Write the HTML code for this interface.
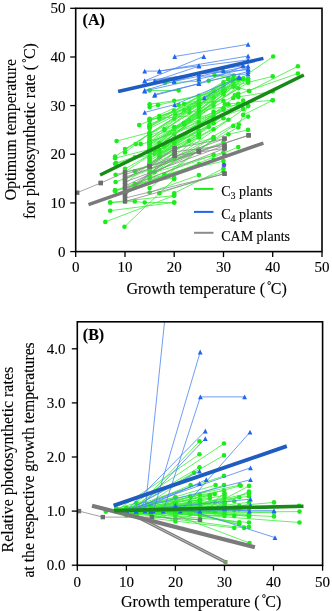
<!DOCTYPE html>
<html><head><meta charset="utf-8"><style>
html,body{margin:0;padding:0;background:#fff;}
svg{display:block;font-family:"Liberation Serif",serif;will-change:transform;}
</style></head><body>
<svg width="332" height="611" viewBox="0 0 332 611" font-family="Liberation Serif"><style>text{stroke:#000;stroke-width:0.12px;}</style>
<rect width="332" height="611" fill="#fff"/>
<defs><clipPath id="ca"><rect x="75.7" y="8.3" width="246.3" height="243.3"/></clipPath>
<clipPath id="cb"><rect x="77.3" y="321.8" width="245.3" height="243.5"/></clipPath></defs>
<g clip-path="url(#ca)">
<polyline points="225.0,89.6 273.2,56.5" fill="none" stroke="#3aee3a" stroke-width="0.8"/>
<circle cx="225.0" cy="89.6" r="2.3" fill="#1ceb1c"/>
<circle cx="273.2" cy="56.5" r="2.3" fill="#1ceb1c"/>
<polyline points="249.1,91.0 297.9,66.2" fill="none" stroke="#3aee3a" stroke-width="0.8"/>
<circle cx="249.1" cy="91.0" r="2.3" fill="#1ceb1c"/>
<circle cx="297.9" cy="66.2" r="2.3" fill="#1ceb1c"/>
<polyline points="234.8,95.4 297.9,73.5" fill="none" stroke="#3aee3a" stroke-width="0.8"/>
<circle cx="234.8" cy="95.4" r="2.3" fill="#1ceb1c"/>
<circle cx="297.9" cy="73.5" r="2.3" fill="#1ceb1c"/>
<polyline points="234.3,85.7 272.7,76.4" fill="none" stroke="#3aee3a" stroke-width="0.8"/>
<circle cx="234.3" cy="85.7" r="2.3" fill="#1ceb1c"/>
<circle cx="272.7" cy="76.4" r="2.3" fill="#1ceb1c"/>
<polyline points="225.0,104.2 272.7,100.3" fill="none" stroke="#3aee3a" stroke-width="0.8"/>
<circle cx="225.0" cy="104.2" r="2.3" fill="#1ceb1c"/>
<circle cx="272.7" cy="100.3" r="2.3" fill="#1ceb1c"/>
<polyline points="238.3,96.9 272.7,91.5" fill="none" stroke="#3aee3a" stroke-width="0.8"/>
<circle cx="238.3" cy="96.9" r="2.3" fill="#1ceb1c"/>
<circle cx="272.7" cy="91.5" r="2.3" fill="#1ceb1c"/>
<polyline points="214.6,75.0 248.1,81.3" fill="none" stroke="#3aee3a" stroke-width="0.8"/>
<circle cx="214.6" cy="75.0" r="2.3" fill="#1ceb1c"/>
<circle cx="248.1" cy="81.3" r="2.3" fill="#1ceb1c"/>
<polyline points="105.3,221.9 174.2,195.6" fill="none" stroke="#3aee3a" stroke-width="0.8"/>
<circle cx="105.3" cy="221.9" r="2.3" fill="#1ceb1c"/>
<circle cx="174.2" cy="195.6" r="2.3" fill="#1ceb1c"/>
<polyline points="124.5,226.8 174.2,179.1" fill="none" stroke="#3aee3a" stroke-width="0.8"/>
<circle cx="124.5" cy="226.8" r="2.3" fill="#1ceb1c"/>
<circle cx="174.2" cy="179.1" r="2.3" fill="#1ceb1c"/>
<polyline points="110.2,210.7 174.2,202.5" fill="none" stroke="#3aee3a" stroke-width="0.8"/>
<circle cx="110.2" cy="210.7" r="2.3" fill="#1ceb1c"/>
<circle cx="174.2" cy="202.5" r="2.3" fill="#1ceb1c"/>
<polyline points="110.2,202.5 174.2,195.6" fill="none" stroke="#3aee3a" stroke-width="0.8"/>
<circle cx="110.2" cy="202.5" r="2.3" fill="#1ceb1c"/>
<circle cx="174.2" cy="195.6" r="2.3" fill="#1ceb1c"/>
<polyline points="110.2,202.5 134.8,201.5 144.7,202.5 174.2,202.5" fill="none" stroke="#3aee3a" stroke-width="0.8"/>
<circle cx="110.2" cy="202.5" r="2.3" fill="#1ceb1c"/>
<circle cx="134.8" cy="201.5" r="2.3" fill="#1ceb1c"/>
<circle cx="144.7" cy="202.5" r="2.3" fill="#1ceb1c"/>
<circle cx="174.2" cy="202.5" r="2.3" fill="#1ceb1c"/>
<polyline points="115.6,174.7 174.2,159.1" fill="none" stroke="#3aee3a" stroke-width="0.8"/>
<circle cx="115.6" cy="174.7" r="2.3" fill="#1ceb1c"/>
<circle cx="174.2" cy="159.1" r="2.3" fill="#1ceb1c"/>
<polyline points="115.6,182.0 198.9,149.4" fill="none" stroke="#3aee3a" stroke-width="0.8"/>
<circle cx="115.6" cy="182.0" r="2.3" fill="#1ceb1c"/>
<circle cx="198.9" cy="149.4" r="2.3" fill="#1ceb1c"/>
<polyline points="115.1,190.3 134.8,185.9 198.9,164.0" fill="none" stroke="#3aee3a" stroke-width="0.8"/>
<circle cx="115.1" cy="190.3" r="2.3" fill="#1ceb1c"/>
<circle cx="134.8" cy="185.9" r="2.3" fill="#1ceb1c"/>
<circle cx="198.9" cy="164.0" r="2.3" fill="#1ceb1c"/>
<polyline points="116.6,141.1 149.6,132.4" fill="none" stroke="#3aee3a" stroke-width="0.8"/>
<circle cx="116.6" cy="141.1" r="2.3" fill="#1ceb1c"/>
<circle cx="149.6" cy="132.4" r="2.3" fill="#1ceb1c"/>
<polyline points="139.2,125.1 174.2,110.5" fill="none" stroke="#3aee3a" stroke-width="0.8"/>
<circle cx="139.2" cy="125.1" r="2.3" fill="#1ceb1c"/>
<circle cx="174.2" cy="110.5" r="2.3" fill="#1ceb1c"/>
<polyline points="115.1,158.2 149.6,149.4" fill="none" stroke="#3aee3a" stroke-width="0.8"/>
<circle cx="115.1" cy="158.2" r="2.3" fill="#1ceb1c"/>
<circle cx="149.6" cy="149.4" r="2.3" fill="#1ceb1c"/>
<polyline points="116.1,163.0 149.6,151.8" fill="none" stroke="#3aee3a" stroke-width="0.8"/>
<circle cx="116.1" cy="163.0" r="2.3" fill="#1ceb1c"/>
<circle cx="149.6" cy="151.8" r="2.3" fill="#1ceb1c"/>
<polyline points="134.8,171.3 174.2,154.3" fill="none" stroke="#3aee3a" stroke-width="0.8"/>
<circle cx="134.8" cy="171.3" r="2.3" fill="#1ceb1c"/>
<circle cx="174.2" cy="154.3" r="2.3" fill="#1ceb1c"/>
<polyline points="134.8,157.2 174.2,144.5" fill="none" stroke="#3aee3a" stroke-width="0.8"/>
<circle cx="134.8" cy="157.2" r="2.3" fill="#1ceb1c"/>
<circle cx="174.2" cy="144.5" r="2.3" fill="#1ceb1c"/>
<polyline points="135.8,144.1 140.7,144.1 149.6,142.1" fill="none" stroke="#3aee3a" stroke-width="0.8"/>
<circle cx="135.8" cy="144.1" r="2.3" fill="#1ceb1c"/>
<circle cx="140.7" cy="144.1" r="2.3" fill="#1ceb1c"/>
<circle cx="149.6" cy="142.1" r="2.3" fill="#1ceb1c"/>
<polyline points="149.6,90.5 178.7,90.5" fill="none" stroke="#3aee3a" stroke-width="0.8"/>
<circle cx="149.6" cy="90.5" r="2.3" fill="#1ceb1c"/>
<circle cx="178.7" cy="90.5" r="2.3" fill="#1ceb1c"/>
<polyline points="164.9,82.7 198.9,81.3" fill="none" stroke="#3aee3a" stroke-width="0.8"/>
<circle cx="164.9" cy="82.7" r="2.3" fill="#1ceb1c"/>
<circle cx="198.9" cy="81.3" r="2.3" fill="#1ceb1c"/>
<polyline points="149.6,104.2 174.2,100.8 223.5,90.0" fill="none" stroke="#3aee3a" stroke-width="0.8"/>
<circle cx="149.6" cy="104.2" r="2.3" fill="#1ceb1c"/>
<circle cx="174.2" cy="100.8" r="2.3" fill="#1ceb1c"/>
<circle cx="223.5" cy="90.0" r="2.3" fill="#1ceb1c"/>
<polyline points="149.6,107.1 158.0,105.1 198.9,95.9" fill="none" stroke="#3aee3a" stroke-width="0.8"/>
<circle cx="149.6" cy="107.1" r="2.3" fill="#1ceb1c"/>
<circle cx="158.0" cy="105.1" r="2.3" fill="#1ceb1c"/>
<circle cx="198.9" cy="95.9" r="2.3" fill="#1ceb1c"/>
<polyline points="178.7,105.1 223.5,100.8" fill="none" stroke="#3aee3a" stroke-width="0.8"/>
<circle cx="178.7" cy="105.1" r="2.3" fill="#1ceb1c"/>
<circle cx="223.5" cy="100.8" r="2.3" fill="#1ceb1c"/>
<polyline points="175.2,114.4 189.5,112.4 238.3,104.6" fill="none" stroke="#3aee3a" stroke-width="0.8"/>
<circle cx="175.2" cy="114.4" r="2.3" fill="#1ceb1c"/>
<circle cx="189.5" cy="112.4" r="2.3" fill="#1ceb1c"/>
<circle cx="238.3" cy="104.6" r="2.3" fill="#1ceb1c"/>
<polyline points="149.6,118.8 198.9,115.4" fill="none" stroke="#3aee3a" stroke-width="0.8"/>
<circle cx="149.6" cy="118.8" r="2.3" fill="#1ceb1c"/>
<circle cx="198.9" cy="115.4" r="2.3" fill="#1ceb1c"/>
<polyline points="208.7,80.8 233.8,75.5" fill="none" stroke="#3aee3a" stroke-width="0.8"/>
<circle cx="208.7" cy="80.8" r="2.3" fill="#1ceb1c"/>
<circle cx="233.8" cy="75.5" r="2.3" fill="#1ceb1c"/>
<polyline points="223.0,71.1 248.1,80.8" fill="none" stroke="#3aee3a" stroke-width="0.8"/>
<circle cx="223.0" cy="71.1" r="2.3" fill="#1ceb1c"/>
<circle cx="248.1" cy="80.8" r="2.3" fill="#1ceb1c"/>
<polyline points="233.8,85.7 249.1,91.0" fill="none" stroke="#3aee3a" stroke-width="0.8"/>
<circle cx="233.8" cy="85.7" r="2.3" fill="#1ceb1c"/>
<circle cx="249.1" cy="91.0" r="2.3" fill="#1ceb1c"/>
<polyline points="223.5,168.4 174.2,193.2" fill="none" stroke="#3aee3a" stroke-width="0.8"/>
<circle cx="223.5" cy="168.4" r="2.3" fill="#1ceb1c"/>
<circle cx="174.2" cy="193.2" r="2.3" fill="#1ceb1c"/>
<polyline points="223.5,161.1 149.6,178.6" fill="none" stroke="#3aee3a" stroke-width="0.8"/>
<circle cx="223.5" cy="161.1" r="2.3" fill="#1ceb1c"/>
<circle cx="149.6" cy="178.6" r="2.3" fill="#1ceb1c"/>
<polyline points="223.5,152.3 149.6,173.7" fill="none" stroke="#3aee3a" stroke-width="0.8"/>
<circle cx="223.5" cy="152.3" r="2.3" fill="#1ceb1c"/>
<circle cx="149.6" cy="173.7" r="2.3" fill="#1ceb1c"/>
<polyline points="238.8,124.6 248.1,105.6" fill="none" stroke="#3aee3a" stroke-width="0.8"/>
<circle cx="238.8" cy="124.6" r="2.3" fill="#1ceb1c"/>
<circle cx="248.1" cy="105.6" r="2.3" fill="#1ceb1c"/>
<polyline points="243.2,114.9 272.7,100.3" fill="none" stroke="#3aee3a" stroke-width="0.8"/>
<circle cx="243.2" cy="114.9" r="2.3" fill="#1ceb1c"/>
<circle cx="272.7" cy="100.3" r="2.3" fill="#1ceb1c"/>
<polyline points="228.4,134.3 248.1,129.9" fill="none" stroke="#3aee3a" stroke-width="0.8"/>
<circle cx="228.4" cy="134.3" r="2.3" fill="#1ceb1c"/>
<circle cx="248.1" cy="129.9" r="2.3" fill="#1ceb1c"/>
<polyline points="154.5,150.3 174.2,134.5 213.6,105.8" fill="none" stroke="#3aee3a" stroke-width="0.8"/>
<circle cx="154.5" cy="150.3" r="2.3" fill="#1ceb1c"/>
<circle cx="174.2" cy="134.5" r="2.3" fill="#1ceb1c"/>
<circle cx="213.6" cy="105.8" r="2.3" fill="#1ceb1c"/>
<polyline points="125.0,168.8 174.2,141.3 213.6,119.2" fill="none" stroke="#3aee3a" stroke-width="0.8"/>
<circle cx="125.0" cy="168.8" r="2.3" fill="#1ceb1c"/>
<circle cx="174.2" cy="141.3" r="2.3" fill="#1ceb1c"/>
<circle cx="213.6" cy="119.2" r="2.3" fill="#1ceb1c"/>
<polyline points="125.0,193.2 238.3,147.1" fill="none" stroke="#3aee3a" stroke-width="0.8"/>
<circle cx="125.0" cy="193.2" r="2.3" fill="#1ceb1c"/>
<circle cx="238.3" cy="147.1" r="2.3" fill="#1ceb1c"/>
<polyline points="125.0,149.0 174.2,118.7 243.2,78.9" fill="none" stroke="#3aee3a" stroke-width="0.8"/>
<circle cx="125.0" cy="149.0" r="2.3" fill="#1ceb1c"/>
<circle cx="174.2" cy="118.7" r="2.3" fill="#1ceb1c"/>
<circle cx="243.2" cy="78.9" r="2.3" fill="#1ceb1c"/>
<polyline points="149.6,127.0 223.5,86.1" fill="none" stroke="#3aee3a" stroke-width="0.8"/>
<circle cx="149.6" cy="127.0" r="2.3" fill="#1ceb1c"/>
<circle cx="223.5" cy="86.1" r="2.3" fill="#1ceb1c"/>
<polyline points="149.6,144.5 238.3,88.3" fill="none" stroke="#3aee3a" stroke-width="0.8"/>
<circle cx="149.6" cy="144.5" r="2.3" fill="#1ceb1c"/>
<circle cx="238.3" cy="88.3" r="2.3" fill="#1ceb1c"/>
<polyline points="159.4,153.0 174.2,140.8 208.7,122.7" fill="none" stroke="#3aee3a" stroke-width="0.8"/>
<circle cx="159.4" cy="153.0" r="2.3" fill="#1ceb1c"/>
<circle cx="174.2" cy="140.8" r="2.3" fill="#1ceb1c"/>
<circle cx="208.7" cy="122.7" r="2.3" fill="#1ceb1c"/>
<polyline points="174.2,129.5 198.9,117.2" fill="none" stroke="#3aee3a" stroke-width="0.8"/>
<circle cx="174.2" cy="129.5" r="2.3" fill="#1ceb1c"/>
<circle cx="198.9" cy="117.2" r="2.3" fill="#1ceb1c"/>
<polyline points="174.2,143.4 223.5,109.4" fill="none" stroke="#3aee3a" stroke-width="0.8"/>
<circle cx="174.2" cy="143.4" r="2.3" fill="#1ceb1c"/>
<circle cx="223.5" cy="109.4" r="2.3" fill="#1ceb1c"/>
<polyline points="149.6,119.3 238.3,78.9" fill="none" stroke="#3aee3a" stroke-width="0.8"/>
<circle cx="149.6" cy="119.3" r="2.3" fill="#1ceb1c"/>
<circle cx="238.3" cy="78.9" r="2.3" fill="#1ceb1c"/>
<polyline points="174.2,139.1 223.5,109.6" fill="none" stroke="#3aee3a" stroke-width="0.8"/>
<circle cx="174.2" cy="139.1" r="2.3" fill="#1ceb1c"/>
<circle cx="223.5" cy="109.6" r="2.3" fill="#1ceb1c"/>
<polyline points="154.5,150.2 213.6,102.5" fill="none" stroke="#3aee3a" stroke-width="0.8"/>
<circle cx="154.5" cy="150.2" r="2.3" fill="#1ceb1c"/>
<circle cx="213.6" cy="102.5" r="2.3" fill="#1ceb1c"/>
<polyline points="125.0,192.9 198.9,137.5" fill="none" stroke="#3aee3a" stroke-width="0.8"/>
<circle cx="125.0" cy="192.9" r="2.3" fill="#1ceb1c"/>
<circle cx="198.9" cy="137.5" r="2.3" fill="#1ceb1c"/>
<polyline points="159.4,153.9 243.2,104.4" fill="none" stroke="#3aee3a" stroke-width="0.8"/>
<circle cx="159.4" cy="153.9" r="2.3" fill="#1ceb1c"/>
<circle cx="243.2" cy="104.4" r="2.3" fill="#1ceb1c"/>
<polyline points="125.0,152.5 149.6,133.3 189.0,108.3" fill="none" stroke="#3aee3a" stroke-width="0.8"/>
<circle cx="125.0" cy="152.5" r="2.3" fill="#1ceb1c"/>
<circle cx="149.6" cy="133.3" r="2.3" fill="#1ceb1c"/>
<circle cx="189.0" cy="108.3" r="2.3" fill="#1ceb1c"/>
<polyline points="149.6,172.3 248.1,116.6" fill="none" stroke="#3aee3a" stroke-width="0.8"/>
<circle cx="149.6" cy="172.3" r="2.3" fill="#1ceb1c"/>
<circle cx="248.1" cy="116.6" r="2.3" fill="#1ceb1c"/>
<polyline points="159.4,155.4 198.9,123.4" fill="none" stroke="#3aee3a" stroke-width="0.8"/>
<circle cx="159.4" cy="155.4" r="2.3" fill="#1ceb1c"/>
<circle cx="198.9" cy="123.4" r="2.3" fill="#1ceb1c"/>
<polyline points="149.6,121.0 233.3,86.7" fill="none" stroke="#3aee3a" stroke-width="0.8"/>
<circle cx="149.6" cy="121.0" r="2.3" fill="#1ceb1c"/>
<circle cx="233.3" cy="86.7" r="2.3" fill="#1ceb1c"/>
<polyline points="164.4,129.0 198.9,108.1 213.6,90.8" fill="none" stroke="#3aee3a" stroke-width="0.8"/>
<circle cx="164.4" cy="129.0" r="2.3" fill="#1ceb1c"/>
<circle cx="198.9" cy="108.1" r="2.3" fill="#1ceb1c"/>
<circle cx="213.6" cy="90.8" r="2.3" fill="#1ceb1c"/>
<polyline points="149.6,142.0 189.0,120.0" fill="none" stroke="#3aee3a" stroke-width="0.8"/>
<circle cx="149.6" cy="142.0" r="2.3" fill="#1ceb1c"/>
<circle cx="189.0" cy="120.0" r="2.3" fill="#1ceb1c"/>
<polyline points="174.2,140.9 198.9,133.9 223.5,118.2" fill="none" stroke="#3aee3a" stroke-width="0.8"/>
<circle cx="174.2" cy="140.9" r="2.3" fill="#1ceb1c"/>
<circle cx="198.9" cy="133.9" r="2.3" fill="#1ceb1c"/>
<circle cx="223.5" cy="118.2" r="2.3" fill="#1ceb1c"/>
<polyline points="149.6,150.4 223.5,94.5" fill="none" stroke="#3aee3a" stroke-width="0.8"/>
<circle cx="149.6" cy="150.4" r="2.3" fill="#1ceb1c"/>
<circle cx="223.5" cy="94.5" r="2.3" fill="#1ceb1c"/>
<polyline points="149.6,151.2 198.9,130.6" fill="none" stroke="#3aee3a" stroke-width="0.8"/>
<circle cx="149.6" cy="151.2" r="2.3" fill="#1ceb1c"/>
<circle cx="198.9" cy="130.6" r="2.3" fill="#1ceb1c"/>
<polyline points="154.5,153.6 213.6,115.1" fill="none" stroke="#3aee3a" stroke-width="0.8"/>
<circle cx="154.5" cy="153.6" r="2.3" fill="#1ceb1c"/>
<circle cx="213.6" cy="115.1" r="2.3" fill="#1ceb1c"/>
<polyline points="125.0,183.6 233.3,98.0" fill="none" stroke="#3aee3a" stroke-width="0.8"/>
<circle cx="125.0" cy="183.6" r="2.3" fill="#1ceb1c"/>
<circle cx="233.3" cy="98.0" r="2.3" fill="#1ceb1c"/>
<polyline points="164.4,146.5 198.9,122.4 228.4,104.3" fill="none" stroke="#3aee3a" stroke-width="0.8"/>
<circle cx="164.4" cy="146.5" r="2.3" fill="#1ceb1c"/>
<circle cx="198.9" cy="122.4" r="2.3" fill="#1ceb1c"/>
<circle cx="228.4" cy="104.3" r="2.3" fill="#1ceb1c"/>
<polyline points="125.0,171.9 174.2,139.4 223.5,108.6" fill="none" stroke="#3aee3a" stroke-width="0.8"/>
<circle cx="125.0" cy="171.9" r="2.3" fill="#1ceb1c"/>
<circle cx="174.2" cy="139.4" r="2.3" fill="#1ceb1c"/>
<circle cx="223.5" cy="108.6" r="2.3" fill="#1ceb1c"/>
<polyline points="149.6,135.5 238.3,103.8" fill="none" stroke="#3aee3a" stroke-width="0.8"/>
<circle cx="149.6" cy="135.5" r="2.3" fill="#1ceb1c"/>
<circle cx="238.3" cy="103.8" r="2.3" fill="#1ceb1c"/>
<polyline points="164.4,130.0 213.6,97.5" fill="none" stroke="#3aee3a" stroke-width="0.8"/>
<circle cx="164.4" cy="130.0" r="2.3" fill="#1ceb1c"/>
<circle cx="213.6" cy="97.5" r="2.3" fill="#1ceb1c"/>
<polyline points="159.4,118.5 233.3,78.9" fill="none" stroke="#3aee3a" stroke-width="0.8"/>
<circle cx="159.4" cy="118.5" r="2.3" fill="#1ceb1c"/>
<circle cx="233.3" cy="78.9" r="2.3" fill="#1ceb1c"/>
<polyline points="184.1,104.1 198.9,100.4 223.5,88.8" fill="none" stroke="#3aee3a" stroke-width="0.8"/>
<circle cx="184.1" cy="104.1" r="2.3" fill="#1ceb1c"/>
<circle cx="198.9" cy="100.4" r="2.3" fill="#1ceb1c"/>
<circle cx="223.5" cy="88.8" r="2.3" fill="#1ceb1c"/>
<polyline points="149.6,137.5 238.3,105.8" fill="none" stroke="#3aee3a" stroke-width="0.8"/>
<circle cx="149.6" cy="137.5" r="2.3" fill="#1ceb1c"/>
<circle cx="238.3" cy="105.8" r="2.3" fill="#1ceb1c"/>
<polyline points="159.4,157.2 213.6,118.1" fill="none" stroke="#3aee3a" stroke-width="0.8"/>
<circle cx="159.4" cy="157.2" r="2.3" fill="#1ceb1c"/>
<circle cx="213.6" cy="118.1" r="2.3" fill="#1ceb1c"/>
<polyline points="125.0,193.2 248.1,106.1" fill="none" stroke="#3aee3a" stroke-width="0.8"/>
<circle cx="125.0" cy="193.2" r="2.3" fill="#1ceb1c"/>
<circle cx="248.1" cy="106.1" r="2.3" fill="#1ceb1c"/>
<polyline points="149.6,146.0 223.5,92.0" fill="none" stroke="#3aee3a" stroke-width="0.8"/>
<circle cx="149.6" cy="146.0" r="2.3" fill="#1ceb1c"/>
<circle cx="223.5" cy="92.0" r="2.3" fill="#1ceb1c"/>
<polyline points="149.6,170.3 243.2,100.5" fill="none" stroke="#3aee3a" stroke-width="0.8"/>
<circle cx="149.6" cy="170.3" r="2.3" fill="#1ceb1c"/>
<circle cx="243.2" cy="100.5" r="2.3" fill="#1ceb1c"/>
<polyline points="149.6,147.7 198.9,111.2" fill="none" stroke="#3aee3a" stroke-width="0.8"/>
<circle cx="149.6" cy="147.7" r="2.3" fill="#1ceb1c"/>
<circle cx="198.9" cy="111.2" r="2.3" fill="#1ceb1c"/>
<polyline points="184.1,110.1 223.5,82.3" fill="none" stroke="#3aee3a" stroke-width="0.8"/>
<circle cx="184.1" cy="110.1" r="2.3" fill="#1ceb1c"/>
<circle cx="223.5" cy="82.3" r="2.3" fill="#1ceb1c"/>
<polyline points="149.6,150.5 233.3,82.0" fill="none" stroke="#3aee3a" stroke-width="0.8"/>
<circle cx="149.6" cy="150.5" r="2.3" fill="#1ceb1c"/>
<circle cx="233.3" cy="82.0" r="2.3" fill="#1ceb1c"/>
<polyline points="159.4,116.0 198.9,105.2 223.5,91.3" fill="none" stroke="#3aee3a" stroke-width="0.8"/>
<circle cx="159.4" cy="116.0" r="2.3" fill="#1ceb1c"/>
<circle cx="198.9" cy="105.2" r="2.3" fill="#1ceb1c"/>
<circle cx="223.5" cy="91.3" r="2.3" fill="#1ceb1c"/>
<polyline points="184.1,124.8 243.2,78.9" fill="none" stroke="#3aee3a" stroke-width="0.8"/>
<circle cx="184.1" cy="124.8" r="2.3" fill="#1ceb1c"/>
<circle cx="243.2" cy="78.9" r="2.3" fill="#1ceb1c"/>
<polyline points="115.1,156.5 233.3,78.9" fill="none" stroke="#3aee3a" stroke-width="0.8"/>
<circle cx="115.1" cy="156.5" r="2.3" fill="#1ceb1c"/>
<circle cx="233.3" cy="78.9" r="2.3" fill="#1ceb1c"/>
<polyline points="149.6,157.6 213.6,123.2" fill="none" stroke="#3aee3a" stroke-width="0.8"/>
<circle cx="149.6" cy="157.6" r="2.3" fill="#1ceb1c"/>
<circle cx="213.6" cy="123.2" r="2.3" fill="#1ceb1c"/>
<polyline points="149.6,134.6 198.9,105.4 233.3,79.4" fill="none" stroke="#3aee3a" stroke-width="0.8"/>
<circle cx="149.6" cy="134.6" r="2.3" fill="#1ceb1c"/>
<circle cx="198.9" cy="105.4" r="2.3" fill="#1ceb1c"/>
<circle cx="233.3" cy="79.4" r="2.3" fill="#1ceb1c"/>
<polyline points="164.4,174.4 233.3,125.9" fill="none" stroke="#3aee3a" stroke-width="0.8"/>
<circle cx="164.4" cy="174.4" r="2.3" fill="#1ceb1c"/>
<circle cx="233.3" cy="125.9" r="2.3" fill="#1ceb1c"/>
<polyline points="149.6,124.3 198.9,103.6" fill="none" stroke="#3aee3a" stroke-width="0.8"/>
<circle cx="149.6" cy="124.3" r="2.3" fill="#1ceb1c"/>
<circle cx="198.9" cy="103.6" r="2.3" fill="#1ceb1c"/>
<polyline points="149.6,126.2 243.2,78.9" fill="none" stroke="#3aee3a" stroke-width="0.8"/>
<circle cx="149.6" cy="126.2" r="2.3" fill="#1ceb1c"/>
<circle cx="243.2" cy="78.9" r="2.3" fill="#1ceb1c"/>
<polyline points="149.6,192.5 198.9,175.1" fill="none" stroke="#3aee3a" stroke-width="0.8"/>
<circle cx="149.6" cy="192.5" r="2.3" fill="#1ceb1c"/>
<circle cx="198.9" cy="175.1" r="2.3" fill="#1ceb1c"/>
<polyline points="149.6,149.0 238.3,78.9" fill="none" stroke="#3aee3a" stroke-width="0.8"/>
<circle cx="149.6" cy="149.0" r="2.3" fill="#1ceb1c"/>
<circle cx="238.3" cy="78.9" r="2.3" fill="#1ceb1c"/>
<polyline points="149.6,158.5 198.9,135.4" fill="none" stroke="#3aee3a" stroke-width="0.8"/>
<circle cx="149.6" cy="158.5" r="2.3" fill="#1ceb1c"/>
<circle cx="198.9" cy="135.4" r="2.3" fill="#1ceb1c"/>
<polyline points="149.6,160.5 198.9,133.3" fill="none" stroke="#3aee3a" stroke-width="0.8"/>
<circle cx="149.6" cy="160.5" r="2.3" fill="#1ceb1c"/>
<circle cx="198.9" cy="133.3" r="2.3" fill="#1ceb1c"/>
<polyline points="159.4,149.9 213.6,118.9" fill="none" stroke="#3aee3a" stroke-width="0.8"/>
<circle cx="159.4" cy="149.9" r="2.3" fill="#1ceb1c"/>
<circle cx="213.6" cy="118.9" r="2.3" fill="#1ceb1c"/>
<polyline points="174.2,127.0 248.1,82.8" fill="none" stroke="#3aee3a" stroke-width="0.8"/>
<circle cx="174.2" cy="127.0" r="2.3" fill="#1ceb1c"/>
<circle cx="248.1" cy="82.8" r="2.3" fill="#1ceb1c"/>
<polyline points="149.6,141.6 243.2,109.0" fill="none" stroke="#3aee3a" stroke-width="0.8"/>
<circle cx="149.6" cy="141.6" r="2.3" fill="#1ceb1c"/>
<circle cx="243.2" cy="109.0" r="2.3" fill="#1ceb1c"/>
<polyline points="149.6,176.7 213.6,137.0" fill="none" stroke="#3aee3a" stroke-width="0.8"/>
<circle cx="149.6" cy="176.7" r="2.3" fill="#1ceb1c"/>
<circle cx="213.6" cy="137.0" r="2.3" fill="#1ceb1c"/>
<polyline points="184.1,123.1 198.9,111.1 223.5,92.3" fill="none" stroke="#3aee3a" stroke-width="0.8"/>
<circle cx="184.1" cy="123.1" r="2.3" fill="#1ceb1c"/>
<circle cx="198.9" cy="111.1" r="2.3" fill="#1ceb1c"/>
<circle cx="223.5" cy="92.3" r="2.3" fill="#1ceb1c"/>
<polyline points="149.6,144.1 198.9,114.7 238.3,93.7" fill="none" stroke="#3aee3a" stroke-width="0.8"/>
<circle cx="149.6" cy="144.1" r="2.3" fill="#1ceb1c"/>
<circle cx="198.9" cy="114.7" r="2.3" fill="#1ceb1c"/>
<circle cx="238.3" cy="93.7" r="2.3" fill="#1ceb1c"/>
<polyline points="154.5,149.8 243.2,78.9" fill="none" stroke="#3aee3a" stroke-width="0.8"/>
<circle cx="154.5" cy="149.8" r="2.3" fill="#1ceb1c"/>
<circle cx="243.2" cy="78.9" r="2.3" fill="#1ceb1c"/>
<polyline points="149.6,152.5 248.1,79.1" fill="none" stroke="#3aee3a" stroke-width="0.8"/>
<circle cx="149.6" cy="152.5" r="2.3" fill="#1ceb1c"/>
<circle cx="248.1" cy="79.1" r="2.3" fill="#1ceb1c"/>
<polyline points="149.6,128.4 248.1,78.9" fill="none" stroke="#3aee3a" stroke-width="0.8"/>
<circle cx="149.6" cy="128.4" r="2.3" fill="#1ceb1c"/>
<circle cx="248.1" cy="78.9" r="2.3" fill="#1ceb1c"/>
<polyline points="149.6,188.0 213.6,139.3" fill="none" stroke="#3aee3a" stroke-width="0.8"/>
<circle cx="149.6" cy="188.0" r="2.3" fill="#1ceb1c"/>
<circle cx="213.6" cy="139.3" r="2.3" fill="#1ceb1c"/>
<polyline points="149.6,164.3 198.9,136.4 228.4,119.8" fill="none" stroke="#3aee3a" stroke-width="0.8"/>
<circle cx="149.6" cy="164.3" r="2.3" fill="#1ceb1c"/>
<circle cx="198.9" cy="136.4" r="2.3" fill="#1ceb1c"/>
<circle cx="228.4" cy="119.8" r="2.3" fill="#1ceb1c"/>
<polyline points="149.6,142.1 198.9,122.1" fill="none" stroke="#3aee3a" stroke-width="0.8"/>
<circle cx="149.6" cy="142.1" r="2.3" fill="#1ceb1c"/>
<circle cx="198.9" cy="122.1" r="2.3" fill="#1ceb1c"/>
<polyline points="159.4,143.1 213.6,111.8" fill="none" stroke="#3aee3a" stroke-width="0.8"/>
<circle cx="159.4" cy="143.1" r="2.3" fill="#1ceb1c"/>
<circle cx="213.6" cy="111.8" r="2.3" fill="#1ceb1c"/>
<polyline points="149.6,139.4 228.4,78.9" fill="none" stroke="#3aee3a" stroke-width="0.8"/>
<circle cx="149.6" cy="139.4" r="2.3" fill="#1ceb1c"/>
<circle cx="228.4" cy="78.9" r="2.3" fill="#1ceb1c"/>
<polyline points="149.6,164.1 213.6,129.2" fill="none" stroke="#3aee3a" stroke-width="0.8"/>
<circle cx="149.6" cy="164.1" r="2.3" fill="#1ceb1c"/>
<circle cx="213.6" cy="129.2" r="2.3" fill="#1ceb1c"/>
<polyline points="159.4,193.2 223.5,171.8" fill="none" stroke="#3aee3a" stroke-width="0.8"/>
<circle cx="159.4" cy="193.2" r="2.3" fill="#1ceb1c"/>
<circle cx="223.5" cy="171.8" r="2.3" fill="#1ceb1c"/>
<polyline points="154.5,172.3 238.3,127.4" fill="none" stroke="#3aee3a" stroke-width="0.8"/>
<circle cx="154.5" cy="172.3" r="2.3" fill="#1ceb1c"/>
<circle cx="238.3" cy="127.4" r="2.3" fill="#1ceb1c"/>
<polyline points="149.6,141.9 198.9,103.8 238.3,78.9" fill="none" stroke="#3aee3a" stroke-width="0.8"/>
<circle cx="149.6" cy="141.9" r="2.3" fill="#1ceb1c"/>
<circle cx="198.9" cy="103.8" r="2.3" fill="#1ceb1c"/>
<circle cx="238.3" cy="78.9" r="2.3" fill="#1ceb1c"/>
<polyline points="149.6,155.1 174.2,142.7 208.7,126.9" fill="none" stroke="#3aee3a" stroke-width="0.8"/>
<circle cx="149.6" cy="155.1" r="2.3" fill="#1ceb1c"/>
<circle cx="174.2" cy="142.7" r="2.3" fill="#1ceb1c"/>
<circle cx="208.7" cy="126.9" r="2.3" fill="#1ceb1c"/>
<polyline points="149.6,162.6 189.0,140.8" fill="none" stroke="#3aee3a" stroke-width="0.8"/>
<circle cx="149.6" cy="162.6" r="2.3" fill="#1ceb1c"/>
<circle cx="189.0" cy="140.8" r="2.3" fill="#1ceb1c"/>
<polyline points="149.6,125.7 228.4,78.9" fill="none" stroke="#3aee3a" stroke-width="0.8"/>
<circle cx="149.6" cy="125.7" r="2.3" fill="#1ceb1c"/>
<circle cx="228.4" cy="78.9" r="2.3" fill="#1ceb1c"/>
<polyline points="115.1,191.2 213.6,159.9" fill="none" stroke="#3aee3a" stroke-width="0.8"/>
<circle cx="115.1" cy="191.2" r="2.3" fill="#1ceb1c"/>
<circle cx="213.6" cy="159.9" r="2.3" fill="#1ceb1c"/>
<polyline points="134.8,184.0 174.2,178.0" fill="none" stroke="#3aee3a" stroke-width="0.8"/>
<circle cx="134.8" cy="184.0" r="2.3" fill="#1ceb1c"/>
<circle cx="174.2" cy="178.0" r="2.3" fill="#1ceb1c"/>
<polyline points="115.1,190.4 213.6,154.9" fill="none" stroke="#3aee3a" stroke-width="0.8"/>
<circle cx="115.1" cy="190.4" r="2.3" fill="#1ceb1c"/>
<circle cx="213.6" cy="154.9" r="2.3" fill="#1ceb1c"/>
<polyline points="115.1,163.8 213.6,138.2" fill="none" stroke="#3aee3a" stroke-width="0.8"/>
<circle cx="115.1" cy="163.8" r="2.3" fill="#1ceb1c"/>
<circle cx="213.6" cy="138.2" r="2.3" fill="#1ceb1c"/>
<polyline points="125.0,179.0 223.5,142.1" fill="none" stroke="#3aee3a" stroke-width="0.8"/>
<circle cx="125.0" cy="179.0" r="2.3" fill="#1ceb1c"/>
<circle cx="223.5" cy="142.1" r="2.3" fill="#1ceb1c"/>
<polyline points="77.2,192.7 100.8,183.0" fill="none" stroke="#8c8c8c" stroke-width="0.8"/>
<rect x="75.0" y="190.5" width="4.4" height="4.4" fill="#6e6e6e"/>
<rect x="98.6" y="180.8" width="4.4" height="4.4" fill="#6e6e6e"/>
<polyline points="100.8,183.0 125.0,172.3 149.6,166.4" fill="none" stroke="#8c8c8c" stroke-width="0.8"/>
<rect x="98.6" y="180.8" width="4.4" height="4.4" fill="#6e6e6e"/>
<rect x="122.8" y="170.1" width="4.4" height="4.4" fill="#6e6e6e"/>
<rect x="147.4" y="164.2" width="4.4" height="4.4" fill="#6e6e6e"/>
<polyline points="125.0,174.7 224.5,138.7" fill="none" stroke="#8c8c8c" stroke-width="0.8"/>
<rect x="122.8" y="172.5" width="4.4" height="4.4" fill="#6e6e6e"/>
<rect x="222.3" y="136.5" width="4.4" height="4.4" fill="#6e6e6e"/>
<polyline points="125.0,177.2 248.6,135.3" fill="none" stroke="#8c8c8c" stroke-width="0.8"/>
<rect x="122.8" y="175.0" width="4.4" height="4.4" fill="#6e6e6e"/>
<rect x="246.4" y="133.1" width="4.4" height="4.4" fill="#6e6e6e"/>
<polyline points="125.0,179.6 174.7,148.4" fill="none" stroke="#8c8c8c" stroke-width="0.8"/>
<rect x="122.8" y="177.4" width="4.4" height="4.4" fill="#6e6e6e"/>
<rect x="172.5" y="146.2" width="4.4" height="4.4" fill="#6e6e6e"/>
<polyline points="125.0,182.0 224.5,145.5" fill="none" stroke="#8c8c8c" stroke-width="0.8"/>
<rect x="122.8" y="179.8" width="4.4" height="4.4" fill="#6e6e6e"/>
<rect x="222.3" y="143.3" width="4.4" height="4.4" fill="#6e6e6e"/>
<polyline points="125.0,185.9 198.9,151.4" fill="none" stroke="#8c8c8c" stroke-width="0.8"/>
<rect x="122.8" y="183.7" width="4.4" height="4.4" fill="#6e6e6e"/>
<rect x="196.7" y="149.2" width="4.4" height="4.4" fill="#6e6e6e"/>
<polyline points="125.0,188.3 224.5,148.4" fill="none" stroke="#8c8c8c" stroke-width="0.8"/>
<rect x="122.8" y="186.1" width="4.4" height="4.4" fill="#6e6e6e"/>
<rect x="222.3" y="146.2" width="4.4" height="4.4" fill="#6e6e6e"/>
<polyline points="125.0,190.8 174.7,155.7" fill="none" stroke="#8c8c8c" stroke-width="0.8"/>
<rect x="122.8" y="188.6" width="4.4" height="4.4" fill="#6e6e6e"/>
<rect x="172.5" y="153.5" width="4.4" height="4.4" fill="#6e6e6e"/>
<polyline points="125.0,193.2 224.5,155.7" fill="none" stroke="#8c8c8c" stroke-width="0.8"/>
<rect x="122.8" y="191.0" width="4.4" height="4.4" fill="#6e6e6e"/>
<rect x="222.3" y="153.5" width="4.4" height="4.4" fill="#6e6e6e"/>
<polyline points="125.0,195.6 174.7,151.8" fill="none" stroke="#8c8c8c" stroke-width="0.8"/>
<rect x="122.8" y="193.4" width="4.4" height="4.4" fill="#6e6e6e"/>
<rect x="172.5" y="149.6" width="4.4" height="4.4" fill="#6e6e6e"/>
<polyline points="125.0,198.1 224.5,173.7" fill="none" stroke="#8c8c8c" stroke-width="0.8"/>
<rect x="122.8" y="195.9" width="4.4" height="4.4" fill="#6e6e6e"/>
<rect x="222.3" y="171.5" width="4.4" height="4.4" fill="#6e6e6e"/>
<polyline points="125.0,201.5 224.5,173.7" fill="none" stroke="#8c8c8c" stroke-width="0.8"/>
<rect x="122.8" y="199.3" width="4.4" height="4.4" fill="#6e6e6e"/>
<rect x="222.3" y="171.5" width="4.4" height="4.4" fill="#6e6e6e"/>
<polyline points="149.6,166.4 174.7,148.4 224.5,138.7" fill="none" stroke="#8c8c8c" stroke-width="0.8"/>
<rect x="147.4" y="164.2" width="4.4" height="4.4" fill="#6e6e6e"/>
<rect x="172.5" y="146.2" width="4.4" height="4.4" fill="#6e6e6e"/>
<rect x="222.3" y="136.5" width="4.4" height="4.4" fill="#6e6e6e"/>
<polyline points="174.7,151.8 224.5,145.5" fill="none" stroke="#8c8c8c" stroke-width="0.8"/>
<rect x="172.5" y="149.6" width="4.4" height="4.4" fill="#6e6e6e"/>
<rect x="222.3" y="143.3" width="4.4" height="4.4" fill="#6e6e6e"/>
<polyline points="174.7,155.7 224.5,148.4" fill="none" stroke="#8c8c8c" stroke-width="0.8"/>
<rect x="172.5" y="153.5" width="4.4" height="4.4" fill="#6e6e6e"/>
<rect x="222.3" y="146.2" width="4.4" height="4.4" fill="#6e6e6e"/>
<polyline points="198.9,151.4 248.6,135.3" fill="none" stroke="#8c8c8c" stroke-width="0.8"/>
<rect x="196.7" y="149.2" width="4.4" height="4.4" fill="#6e6e6e"/>
<rect x="246.4" y="133.1" width="4.4" height="4.4" fill="#6e6e6e"/>
<polyline points="149.6,166.4 198.9,151.4" fill="none" stroke="#8c8c8c" stroke-width="0.8"/>
<rect x="147.4" y="164.2" width="4.4" height="4.4" fill="#6e6e6e"/>
<rect x="196.7" y="149.2" width="4.4" height="4.4" fill="#6e6e6e"/>
<polyline points="174.7,56.5 248.1,44.3" fill="none" stroke="#4a84f2" stroke-width="0.8"/>
<path d="M174.7 54.1L177.1 58.9L172.3 58.9Z" fill="#2166ee"/>
<path d="M248.1 41.9L250.5 46.7L245.7 46.7Z" fill="#2166ee"/>
<polyline points="144.7,71.1 159.4,71.1 248.1,56.0" fill="none" stroke="#4a84f2" stroke-width="0.8"/>
<path d="M144.7 68.7L147.1 73.5L142.3 73.5Z" fill="#2166ee"/>
<path d="M159.4 68.7L161.8 73.5L157.0 73.5Z" fill="#2166ee"/>
<path d="M248.1 53.6L250.5 58.4L245.7 58.4Z" fill="#2166ee"/>
<polyline points="144.7,80.8 203.8,56.5" fill="none" stroke="#4a84f2" stroke-width="0.8"/>
<path d="M144.7 78.4L147.1 83.2L142.3 83.2Z" fill="#2166ee"/>
<path d="M203.8 54.1L206.2 58.9L201.4 58.9Z" fill="#2166ee"/>
<polyline points="155.0,80.8 198.9,66.2 248.1,59.9" fill="none" stroke="#4a84f2" stroke-width="0.8"/>
<path d="M155.0 78.4L157.4 83.2L152.6 83.2Z" fill="#2166ee"/>
<path d="M198.9 63.8L201.3 68.6L196.5 68.6Z" fill="#2166ee"/>
<path d="M248.1 57.5L250.5 62.3L245.7 62.3Z" fill="#2166ee"/>
<polyline points="144.7,90.5 174.2,81.3 248.1,66.2" fill="none" stroke="#4a84f2" stroke-width="0.8"/>
<path d="M144.7 88.1L147.1 92.9L142.3 92.9Z" fill="#2166ee"/>
<path d="M174.2 78.9L176.6 83.7L171.8 83.7Z" fill="#2166ee"/>
<path d="M248.1 63.8L250.5 68.6L245.7 68.6Z" fill="#2166ee"/>
<polyline points="154.5,95.4 198.9,83.7 243.7,66.2" fill="none" stroke="#4a84f2" stroke-width="0.8"/>
<path d="M154.5 93.0L156.9 97.8L152.1 97.8Z" fill="#2166ee"/>
<path d="M198.9 81.3L201.3 86.1L196.5 86.1Z" fill="#2166ee"/>
<path d="M243.7 63.8L246.1 68.6L241.3 68.6Z" fill="#2166ee"/>
<polyline points="144.7,112.4 174.7,104.6 239.7,77.4" fill="none" stroke="#4a84f2" stroke-width="0.8"/>
<path d="M144.7 110.0L147.1 114.8L142.3 114.8Z" fill="#2166ee"/>
<path d="M174.7 102.2L177.1 107.0L172.3 107.0Z" fill="#2166ee"/>
<path d="M239.7 75.0L242.1 79.8L237.3 79.8Z" fill="#2166ee"/>
<polyline points="174.2,81.3 198.9,74.0 248.1,69.6" fill="none" stroke="#4a84f2" stroke-width="0.8"/>
<path d="M174.2 78.9L176.6 83.7L171.8 83.7Z" fill="#2166ee"/>
<path d="M198.9 71.6L201.3 76.4L196.5 76.4Z" fill="#2166ee"/>
<path d="M248.1 67.2L250.5 72.0L245.7 72.0Z" fill="#2166ee"/>
<polyline points="204.3,97.8 238.8,77.4" fill="none" stroke="#4a84f2" stroke-width="0.8"/>
<path d="M204.3 95.4L206.7 100.2L201.9 100.2Z" fill="#2166ee"/>
<path d="M238.8 75.0L241.2 79.8L236.4 79.8Z" fill="#2166ee"/>
<polyline points="198.9,76.4 248.1,74.0" fill="none" stroke="#4a84f2" stroke-width="0.8"/>
<path d="M198.9 74.0L201.3 78.8L196.5 78.8Z" fill="#2166ee"/>
<path d="M248.1 71.6L250.5 76.4L245.7 76.4Z" fill="#2166ee"/>
<polyline points="144.7,80.8 223.5,70.6" fill="none" stroke="#4a84f2" stroke-width="0.8"/>
<path d="M144.7 78.4L147.1 83.2L142.3 83.2Z" fill="#2166ee"/>
<path d="M223.5 68.2L225.9 73.0L221.1 73.0Z" fill="#2166ee"/>
<polyline points="154.5,80.8 242.7,65.7" fill="none" stroke="#4a84f2" stroke-width="0.8"/>
<path d="M154.5 78.4L156.9 83.2L152.1 83.2Z" fill="#2166ee"/>
<path d="M242.7 63.3L245.1 68.1L240.3 68.1Z" fill="#2166ee"/>
<polyline points="144.7,91.0 198.9,78.9 248.1,68.6" fill="none" stroke="#4a84f2" stroke-width="0.8"/>
<path d="M144.7 88.6L147.1 93.4L142.3 93.4Z" fill="#2166ee"/>
<path d="M198.9 76.5L201.3 81.3L196.5 81.3Z" fill="#2166ee"/>
<path d="M248.1 66.2L250.5 71.0L245.7 71.0Z" fill="#2166ee"/>
<polyline points="155.0,94.4 198.9,83.7 248.1,71.6" fill="none" stroke="#4a84f2" stroke-width="0.8"/>
<path d="M155.0 92.0L157.4 96.8L152.6 96.8Z" fill="#2166ee"/>
<path d="M198.9 81.3L201.3 86.1L196.5 86.1Z" fill="#2166ee"/>
<path d="M248.1 69.2L250.5 74.0L245.7 74.0Z" fill="#2166ee"/>
<polyline points="159.4,71.1 198.9,65.7" fill="none" stroke="#4a84f2" stroke-width="0.8"/>
<path d="M159.4 68.7L161.8 73.5L157.0 73.5Z" fill="#2166ee"/>
<path d="M198.9 63.3L201.3 68.1L196.5 68.1Z" fill="#2166ee"/>
<circle cx="224.0" cy="165.0" r="2.3" fill="#5a4fe0"/>
<line x1="100.1" y1="175.0" x2="303.8" y2="75.0" stroke="#178a17" stroke-width="3.5"/>
<line x1="118.1" y1="91.5" x2="263.4" y2="58.4" stroke="#1f5cc0" stroke-width="3.5"/>
<line x1="88.5" y1="204.6" x2="263.4" y2="143.1" stroke="#7a7a7a" stroke-width="3.5"/>
</g>
<g clip-path="url(#cb)">
<line x1="121.5" y1="508.9" x2="225.5" y2="562.0" stroke="#7c7c7c" stroke-width="3.2"/>
<line x1="121.5" y1="508.9" x2="225.5" y2="562.0" stroke="#c4c4c4" stroke-width="0.9"/>
<rect x="223.5" y="560.0" width="4" height="4" fill="#7a9a6a"/>
<polyline points="136.2,508.2 199.5,441.3" fill="none" stroke="#3aee3a" stroke-width="0.8"/>
<circle cx="136.2" cy="508.2" r="2.3" fill="#1ceb1c"/>
<circle cx="199.5" cy="441.3" r="2.3" fill="#1ceb1c"/>
<polyline points="126.4,508.6 224.0,443.5" fill="none" stroke="#3aee3a" stroke-width="0.8"/>
<circle cx="126.4" cy="508.6" r="2.3" fill="#1ceb1c"/>
<circle cx="224.0" cy="443.5" r="2.3" fill="#1ceb1c"/>
<polyline points="116.5,510.4 199.5,454.3" fill="none" stroke="#3aee3a" stroke-width="0.8"/>
<circle cx="116.5" cy="510.4" r="2.3" fill="#1ceb1c"/>
<circle cx="199.5" cy="454.3" r="2.3" fill="#1ceb1c"/>
<polyline points="126.4,511.2 224.0,455.4" fill="none" stroke="#3aee3a" stroke-width="0.8"/>
<circle cx="126.4" cy="511.2" r="2.3" fill="#1ceb1c"/>
<circle cx="224.0" cy="455.4" r="2.3" fill="#1ceb1c"/>
<polyline points="126.4,510.1 199.5,467.3" fill="none" stroke="#3aee3a" stroke-width="0.8"/>
<circle cx="126.4" cy="510.1" r="2.3" fill="#1ceb1c"/>
<circle cx="199.5" cy="467.3" r="2.3" fill="#1ceb1c"/>
<polyline points="136.2,512.0 194.1,472.7" fill="none" stroke="#3aee3a" stroke-width="0.8"/>
<circle cx="136.2" cy="512.0" r="2.3" fill="#1ceb1c"/>
<circle cx="194.1" cy="472.7" r="2.3" fill="#1ceb1c"/>
<polyline points="126.4,508.5 224.0,475.9" fill="none" stroke="#3aee3a" stroke-width="0.8"/>
<circle cx="126.4" cy="508.5" r="2.3" fill="#1ceb1c"/>
<circle cx="224.0" cy="475.9" r="2.3" fill="#1ceb1c"/>
<polyline points="126.4,512.1 190.6,485.1" fill="none" stroke="#3aee3a" stroke-width="0.8"/>
<circle cx="126.4" cy="512.1" r="2.3" fill="#1ceb1c"/>
<circle cx="190.6" cy="485.1" r="2.3" fill="#1ceb1c"/>
<polyline points="126.4,511.1 215.6,485.1" fill="none" stroke="#3aee3a" stroke-width="0.8"/>
<circle cx="126.4" cy="511.1" r="2.3" fill="#1ceb1c"/>
<circle cx="215.6" cy="485.1" r="2.3" fill="#1ceb1c"/>
<polyline points="150.9,509.9 224.0,485.1" fill="none" stroke="#3aee3a" stroke-width="0.8"/>
<circle cx="150.9" cy="509.9" r="2.3" fill="#1ceb1c"/>
<circle cx="224.0" cy="485.1" r="2.3" fill="#1ceb1c"/>
<polyline points="116.5,511.0 239.7,485.1" fill="none" stroke="#3aee3a" stroke-width="0.8"/>
<circle cx="116.5" cy="511.0" r="2.3" fill="#1ceb1c"/>
<circle cx="239.7" cy="485.1" r="2.3" fill="#1ceb1c"/>
<polyline points="116.5,511.3 224.0,490.5" fill="none" stroke="#3aee3a" stroke-width="0.8"/>
<circle cx="116.5" cy="511.3" r="2.3" fill="#1ceb1c"/>
<circle cx="224.0" cy="490.5" r="2.3" fill="#1ceb1c"/>
<polyline points="126.4,513.1 224.5,495.4" fill="none" stroke="#3aee3a" stroke-width="0.8"/>
<circle cx="126.4" cy="513.1" r="2.3" fill="#1ceb1c"/>
<circle cx="224.5" cy="495.4" r="2.3" fill="#1ceb1c"/>
<polyline points="136.2,514.8 274.0,502.4" fill="none" stroke="#3aee3a" stroke-width="0.8"/>
<circle cx="136.2" cy="514.8" r="2.3" fill="#1ceb1c"/>
<circle cx="274.0" cy="502.4" r="2.3" fill="#1ceb1c"/>
<polyline points="116.5,510.5 274.0,512.7" fill="none" stroke="#3aee3a" stroke-width="0.8"/>
<circle cx="116.5" cy="510.5" r="2.3" fill="#1ceb1c"/>
<circle cx="274.0" cy="512.7" r="2.3" fill="#1ceb1c"/>
<polyline points="136.2,510.4 274.0,516.5" fill="none" stroke="#3aee3a" stroke-width="0.8"/>
<circle cx="136.2" cy="510.4" r="2.3" fill="#1ceb1c"/>
<circle cx="274.0" cy="516.5" r="2.3" fill="#1ceb1c"/>
<polyline points="126.4,512.7 299.5,511.6" fill="none" stroke="#3aee3a" stroke-width="0.8"/>
<circle cx="126.4" cy="512.7" r="2.3" fill="#1ceb1c"/>
<circle cx="299.5" cy="511.6" r="2.3" fill="#1ceb1c"/>
<polyline points="136.2,510.3 299.5,522.5" fill="none" stroke="#3aee3a" stroke-width="0.8"/>
<circle cx="136.2" cy="510.3" r="2.3" fill="#1ceb1c"/>
<circle cx="299.5" cy="522.5" r="2.3" fill="#1ceb1c"/>
<polyline points="136.2,512.5 249.0,522.5" fill="none" stroke="#3aee3a" stroke-width="0.8"/>
<circle cx="136.2" cy="512.5" r="2.3" fill="#1ceb1c"/>
<circle cx="249.0" cy="522.5" r="2.3" fill="#1ceb1c"/>
<polyline points="126.4,512.9 244.1,527.9" fill="none" stroke="#3aee3a" stroke-width="0.8"/>
<circle cx="126.4" cy="512.9" r="2.3" fill="#1ceb1c"/>
<circle cx="244.1" cy="527.9" r="2.3" fill="#1ceb1c"/>
<polyline points="126.4,515.4 234.3,527.9" fill="none" stroke="#3aee3a" stroke-width="0.8"/>
<circle cx="126.4" cy="515.4" r="2.3" fill="#1ceb1c"/>
<circle cx="234.3" cy="527.9" r="2.3" fill="#1ceb1c"/>
<polyline points="126.4,509.8 299.1,505.7" fill="none" stroke="#3aee3a" stroke-width="0.8"/>
<circle cx="126.4" cy="509.8" r="2.3" fill="#1ceb1c"/>
<circle cx="299.1" cy="505.7" r="2.3" fill="#1ceb1c"/>
<polyline points="136.2,513.3 240.7,485.7" fill="none" stroke="#3aee3a" stroke-width="0.8"/>
<circle cx="136.2" cy="513.3" r="2.3" fill="#1ceb1c"/>
<circle cx="240.7" cy="485.7" r="2.3" fill="#1ceb1c"/>
<polyline points="126.4,512.3 199.9,494.9" fill="none" stroke="#3aee3a" stroke-width="0.8"/>
<circle cx="126.4" cy="512.3" r="2.3" fill="#1ceb1c"/>
<circle cx="199.9" cy="494.9" r="2.3" fill="#1ceb1c"/>
<polyline points="116.5,510.3 175.4,497.6" fill="none" stroke="#3aee3a" stroke-width="0.8"/>
<circle cx="116.5" cy="510.3" r="2.3" fill="#1ceb1c"/>
<circle cx="175.4" cy="497.6" r="2.3" fill="#1ceb1c"/>
<polyline points="116.5,508.8 175.4,503.0" fill="none" stroke="#3aee3a" stroke-width="0.8"/>
<circle cx="116.5" cy="508.8" r="2.3" fill="#1ceb1c"/>
<circle cx="175.4" cy="503.0" r="2.3" fill="#1ceb1c"/>
<polyline points="136.2,510.9 224.5,507.5" fill="none" stroke="#3aee3a" stroke-width="0.8"/>
<circle cx="136.2" cy="510.9" r="2.3" fill="#1ceb1c"/>
<circle cx="224.5" cy="507.5" r="2.3" fill="#1ceb1c"/>
<polyline points="175.4,510.5 239.2,497.3" fill="none" stroke="#3aee3a" stroke-width="0.8"/>
<circle cx="175.4" cy="510.5" r="2.3" fill="#1ceb1c"/>
<circle cx="239.2" cy="497.3" r="2.3" fill="#1ceb1c"/>
<polyline points="116.5,511.5 175.4,506.9 224.5,506.6" fill="none" stroke="#3aee3a" stroke-width="0.8"/>
<circle cx="116.5" cy="511.5" r="2.3" fill="#1ceb1c"/>
<circle cx="175.4" cy="506.9" r="2.3" fill="#1ceb1c"/>
<circle cx="224.5" cy="506.6" r="2.3" fill="#1ceb1c"/>
<polyline points="136.2,511.3 224.5,507.3" fill="none" stroke="#3aee3a" stroke-width="0.8"/>
<circle cx="136.2" cy="511.3" r="2.3" fill="#1ceb1c"/>
<circle cx="224.5" cy="507.3" r="2.3" fill="#1ceb1c"/>
<polyline points="126.4,510.5 175.4,512.9 214.7,501.9" fill="none" stroke="#3aee3a" stroke-width="0.8"/>
<circle cx="126.4" cy="510.5" r="2.3" fill="#1ceb1c"/>
<circle cx="175.4" cy="512.9" r="2.3" fill="#1ceb1c"/>
<circle cx="214.7" cy="501.9" r="2.3" fill="#1ceb1c"/>
<polyline points="175.4,511.1 249.0,502.3" fill="none" stroke="#3aee3a" stroke-width="0.8"/>
<circle cx="175.4" cy="511.1" r="2.3" fill="#1ceb1c"/>
<circle cx="249.0" cy="502.3" r="2.3" fill="#1ceb1c"/>
<polyline points="116.5,511.1 199.9,509.5 224.5,501.7" fill="none" stroke="#3aee3a" stroke-width="0.8"/>
<circle cx="116.5" cy="511.1" r="2.3" fill="#1ceb1c"/>
<circle cx="199.9" cy="509.5" r="2.3" fill="#1ceb1c"/>
<circle cx="224.5" cy="501.7" r="2.3" fill="#1ceb1c"/>
<polyline points="175.4,509.2 249.0,493.4" fill="none" stroke="#3aee3a" stroke-width="0.8"/>
<circle cx="175.4" cy="509.2" r="2.3" fill="#1ceb1c"/>
<circle cx="249.0" cy="493.4" r="2.3" fill="#1ceb1c"/>
<polyline points="150.9,513.3 199.9,511.8 249.0,485.9" fill="none" stroke="#3aee3a" stroke-width="0.8"/>
<circle cx="150.9" cy="513.3" r="2.3" fill="#1ceb1c"/>
<circle cx="199.9" cy="511.8" r="2.3" fill="#1ceb1c"/>
<circle cx="249.0" cy="485.9" r="2.3" fill="#1ceb1c"/>
<polyline points="175.4,511.7 239.2,522.4" fill="none" stroke="#3aee3a" stroke-width="0.8"/>
<circle cx="175.4" cy="511.7" r="2.3" fill="#1ceb1c"/>
<circle cx="239.2" cy="522.4" r="2.3" fill="#1ceb1c"/>
<polyline points="175.4,510.0 249.0,526.9" fill="none" stroke="#3aee3a" stroke-width="0.8"/>
<circle cx="175.4" cy="510.0" r="2.3" fill="#1ceb1c"/>
<circle cx="249.0" cy="526.9" r="2.3" fill="#1ceb1c"/>
<polyline points="126.4,511.2 190.1,504.7" fill="none" stroke="#3aee3a" stroke-width="0.8"/>
<circle cx="126.4" cy="511.2" r="2.3" fill="#1ceb1c"/>
<circle cx="190.1" cy="504.7" r="2.3" fill="#1ceb1c"/>
<polyline points="126.4,510.9 224.5,503.4" fill="none" stroke="#3aee3a" stroke-width="0.8"/>
<circle cx="126.4" cy="510.9" r="2.3" fill="#1ceb1c"/>
<circle cx="224.5" cy="503.4" r="2.3" fill="#1ceb1c"/>
<polyline points="175.4,512.9 239.2,509.2" fill="none" stroke="#3aee3a" stroke-width="0.8"/>
<circle cx="175.4" cy="512.9" r="2.3" fill="#1ceb1c"/>
<circle cx="239.2" cy="509.2" r="2.3" fill="#1ceb1c"/>
<polyline points="126.4,509.8 199.9,513.8 249.0,491.6" fill="none" stroke="#3aee3a" stroke-width="0.8"/>
<circle cx="126.4" cy="509.8" r="2.3" fill="#1ceb1c"/>
<circle cx="199.9" cy="513.8" r="2.3" fill="#1ceb1c"/>
<circle cx="249.0" cy="491.6" r="2.3" fill="#1ceb1c"/>
<polyline points="126.4,511.2 175.4,509.3 249.0,516.5" fill="none" stroke="#3aee3a" stroke-width="0.8"/>
<circle cx="126.4" cy="511.2" r="2.3" fill="#1ceb1c"/>
<circle cx="175.4" cy="509.3" r="2.3" fill="#1ceb1c"/>
<circle cx="249.0" cy="516.5" r="2.3" fill="#1ceb1c"/>
<polyline points="126.4,508.4 249.0,515.5" fill="none" stroke="#3aee3a" stroke-width="0.8"/>
<circle cx="126.4" cy="508.4" r="2.3" fill="#1ceb1c"/>
<circle cx="249.0" cy="515.5" r="2.3" fill="#1ceb1c"/>
<polyline points="126.4,512.6 199.9,511.9 224.5,503.1" fill="none" stroke="#3aee3a" stroke-width="0.8"/>
<circle cx="126.4" cy="512.6" r="2.3" fill="#1ceb1c"/>
<circle cx="199.9" cy="511.9" r="2.3" fill="#1ceb1c"/>
<circle cx="224.5" cy="503.1" r="2.3" fill="#1ceb1c"/>
<polyline points="126.4,512.3 190.1,514.3" fill="none" stroke="#3aee3a" stroke-width="0.8"/>
<circle cx="126.4" cy="512.3" r="2.3" fill="#1ceb1c"/>
<circle cx="190.1" cy="514.3" r="2.3" fill="#1ceb1c"/>
<polyline points="136.2,511.3 175.4,508.1 234.3,510.1" fill="none" stroke="#3aee3a" stroke-width="0.8"/>
<circle cx="136.2" cy="511.3" r="2.3" fill="#1ceb1c"/>
<circle cx="175.4" cy="508.1" r="2.3" fill="#1ceb1c"/>
<circle cx="234.3" cy="510.1" r="2.3" fill="#1ceb1c"/>
<polyline points="126.4,511.2 175.4,509.6 239.2,523.9" fill="none" stroke="#3aee3a" stroke-width="0.8"/>
<circle cx="126.4" cy="511.2" r="2.3" fill="#1ceb1c"/>
<circle cx="175.4" cy="509.6" r="2.3" fill="#1ceb1c"/>
<circle cx="239.2" cy="523.9" r="2.3" fill="#1ceb1c"/>
<polyline points="150.9,508.6 249.0,496.3" fill="none" stroke="#3aee3a" stroke-width="0.8"/>
<circle cx="150.9" cy="508.6" r="2.3" fill="#1ceb1c"/>
<circle cx="249.0" cy="496.3" r="2.3" fill="#1ceb1c"/>
<polyline points="150.9,511.3 175.4,505.9" fill="none" stroke="#3aee3a" stroke-width="0.8"/>
<circle cx="150.9" cy="511.3" r="2.3" fill="#1ceb1c"/>
<circle cx="175.4" cy="505.9" r="2.3" fill="#1ceb1c"/>
<polyline points="150.9,513.8 209.8,496.1" fill="none" stroke="#3aee3a" stroke-width="0.8"/>
<circle cx="150.9" cy="513.8" r="2.3" fill="#1ceb1c"/>
<circle cx="209.8" cy="496.1" r="2.3" fill="#1ceb1c"/>
<polyline points="126.4,508.8 175.4,504.6 234.3,501.3" fill="none" stroke="#3aee3a" stroke-width="0.8"/>
<circle cx="126.4" cy="508.8" r="2.3" fill="#1ceb1c"/>
<circle cx="175.4" cy="504.6" r="2.3" fill="#1ceb1c"/>
<circle cx="234.3" cy="501.3" r="2.3" fill="#1ceb1c"/>
<polyline points="175.4,508.9 209.8,498.6" fill="none" stroke="#3aee3a" stroke-width="0.8"/>
<circle cx="175.4" cy="508.9" r="2.3" fill="#1ceb1c"/>
<circle cx="209.8" cy="498.6" r="2.3" fill="#1ceb1c"/>
<polyline points="150.9,512.8 175.4,497.3" fill="none" stroke="#3aee3a" stroke-width="0.8"/>
<circle cx="150.9" cy="512.8" r="2.3" fill="#1ceb1c"/>
<circle cx="175.4" cy="497.3" r="2.3" fill="#1ceb1c"/>
<polyline points="150.9,507.8 209.8,510.8" fill="none" stroke="#3aee3a" stroke-width="0.8"/>
<circle cx="150.9" cy="507.8" r="2.3" fill="#1ceb1c"/>
<circle cx="209.8" cy="510.8" r="2.3" fill="#1ceb1c"/>
<polyline points="126.4,512.8 214.7,494.1" fill="none" stroke="#3aee3a" stroke-width="0.8"/>
<circle cx="126.4" cy="512.8" r="2.3" fill="#1ceb1c"/>
<circle cx="214.7" cy="494.1" r="2.3" fill="#1ceb1c"/>
<polyline points="126.4,511.1 175.4,519.1 199.9,514.0" fill="none" stroke="#3aee3a" stroke-width="0.8"/>
<circle cx="126.4" cy="511.1" r="2.3" fill="#1ceb1c"/>
<circle cx="175.4" cy="519.1" r="2.3" fill="#1ceb1c"/>
<circle cx="199.9" cy="514.0" r="2.3" fill="#1ceb1c"/>
<polyline points="126.4,513.6 175.4,509.7 224.5,497.7" fill="none" stroke="#3aee3a" stroke-width="0.8"/>
<circle cx="126.4" cy="513.6" r="2.3" fill="#1ceb1c"/>
<circle cx="175.4" cy="509.7" r="2.3" fill="#1ceb1c"/>
<circle cx="224.5" cy="497.7" r="2.3" fill="#1ceb1c"/>
<polyline points="136.2,514.3 190.1,496.6" fill="none" stroke="#3aee3a" stroke-width="0.8"/>
<circle cx="136.2" cy="514.3" r="2.3" fill="#1ceb1c"/>
<circle cx="190.1" cy="496.6" r="2.3" fill="#1ceb1c"/>
<polyline points="126.4,510.3 175.4,510.9 199.9,499.8" fill="none" stroke="#3aee3a" stroke-width="0.8"/>
<circle cx="126.4" cy="510.3" r="2.3" fill="#1ceb1c"/>
<circle cx="175.4" cy="510.9" r="2.3" fill="#1ceb1c"/>
<circle cx="199.9" cy="499.8" r="2.3" fill="#1ceb1c"/>
<polyline points="150.9,510.2 175.4,521.5" fill="none" stroke="#3aee3a" stroke-width="0.8"/>
<circle cx="150.9" cy="510.2" r="2.3" fill="#1ceb1c"/>
<circle cx="175.4" cy="521.5" r="2.3" fill="#1ceb1c"/>
<polyline points="175.4,510.9 224.5,505.9" fill="none" stroke="#3aee3a" stroke-width="0.8"/>
<circle cx="175.4" cy="510.9" r="2.3" fill="#1ceb1c"/>
<circle cx="224.5" cy="505.9" r="2.3" fill="#1ceb1c"/>
<polyline points="150.9,511.8 224.5,512.8" fill="none" stroke="#3aee3a" stroke-width="0.8"/>
<circle cx="150.9" cy="511.8" r="2.3" fill="#1ceb1c"/>
<circle cx="224.5" cy="512.8" r="2.3" fill="#1ceb1c"/>
<polyline points="150.9,509.4 175.4,515.6" fill="none" stroke="#3aee3a" stroke-width="0.8"/>
<circle cx="150.9" cy="509.4" r="2.3" fill="#1ceb1c"/>
<circle cx="175.4" cy="515.6" r="2.3" fill="#1ceb1c"/>
<polyline points="136.2,511.9 209.8,495.1" fill="none" stroke="#3aee3a" stroke-width="0.8"/>
<circle cx="136.2" cy="511.9" r="2.3" fill="#1ceb1c"/>
<circle cx="209.8" cy="495.1" r="2.3" fill="#1ceb1c"/>
<polyline points="136.2,511.9 224.5,515.9" fill="none" stroke="#3aee3a" stroke-width="0.8"/>
<circle cx="136.2" cy="511.9" r="2.3" fill="#1ceb1c"/>
<circle cx="224.5" cy="515.9" r="2.3" fill="#1ceb1c"/>
<polyline points="150.9,510.6 175.4,514.5 190.1,504.7" fill="none" stroke="#3aee3a" stroke-width="0.8"/>
<circle cx="150.9" cy="510.6" r="2.3" fill="#1ceb1c"/>
<circle cx="175.4" cy="514.5" r="2.3" fill="#1ceb1c"/>
<circle cx="190.1" cy="504.7" r="2.3" fill="#1ceb1c"/>
<polyline points="136.2,511.7 150.9,509.3 249.0,514.3" fill="none" stroke="#3aee3a" stroke-width="0.8"/>
<circle cx="136.2" cy="511.7" r="2.3" fill="#1ceb1c"/>
<circle cx="150.9" cy="509.3" r="2.3" fill="#1ceb1c"/>
<circle cx="249.0" cy="514.3" r="2.3" fill="#1ceb1c"/>
<polyline points="126.4,512.4 214.7,512.3" fill="none" stroke="#3aee3a" stroke-width="0.8"/>
<circle cx="126.4" cy="512.4" r="2.3" fill="#1ceb1c"/>
<circle cx="214.7" cy="512.3" r="2.3" fill="#1ceb1c"/>
<polyline points="126.4,511.1 175.4,519.0" fill="none" stroke="#3aee3a" stroke-width="0.8"/>
<circle cx="126.4" cy="511.1" r="2.3" fill="#1ceb1c"/>
<circle cx="175.4" cy="519.0" r="2.3" fill="#1ceb1c"/>
<polyline points="175.4,512.2 199.9,503.6" fill="none" stroke="#3aee3a" stroke-width="0.8"/>
<circle cx="175.4" cy="512.2" r="2.3" fill="#1ceb1c"/>
<circle cx="199.9" cy="503.6" r="2.3" fill="#1ceb1c"/>
<polyline points="136.2,511.9 199.9,519.9" fill="none" stroke="#3aee3a" stroke-width="0.8"/>
<circle cx="136.2" cy="511.9" r="2.3" fill="#1ceb1c"/>
<circle cx="199.9" cy="519.9" r="2.3" fill="#1ceb1c"/>
<polyline points="126.4,511.3 190.1,502.6" fill="none" stroke="#3aee3a" stroke-width="0.8"/>
<circle cx="126.4" cy="511.3" r="2.3" fill="#1ceb1c"/>
<circle cx="190.1" cy="502.6" r="2.3" fill="#1ceb1c"/>
<polyline points="150.9,508.1 224.5,514.6" fill="none" stroke="#3aee3a" stroke-width="0.8"/>
<circle cx="150.9" cy="508.1" r="2.3" fill="#1ceb1c"/>
<circle cx="224.5" cy="514.6" r="2.3" fill="#1ceb1c"/>
<polyline points="116.5,508.6 199.9,506.6" fill="none" stroke="#3aee3a" stroke-width="0.8"/>
<circle cx="116.5" cy="508.6" r="2.3" fill="#1ceb1c"/>
<circle cx="199.9" cy="506.6" r="2.3" fill="#1ceb1c"/>
<polyline points="150.9,511.7 234.3,509.2" fill="none" stroke="#3aee3a" stroke-width="0.8"/>
<circle cx="150.9" cy="511.7" r="2.3" fill="#1ceb1c"/>
<circle cx="234.3" cy="509.2" r="2.3" fill="#1ceb1c"/>
<polyline points="175.4,509.9 224.5,510.7" fill="none" stroke="#3aee3a" stroke-width="0.8"/>
<circle cx="175.4" cy="509.9" r="2.3" fill="#1ceb1c"/>
<circle cx="224.5" cy="510.7" r="2.3" fill="#1ceb1c"/>
<polyline points="126.4,510.3 224.5,510.3" fill="none" stroke="#3aee3a" stroke-width="0.8"/>
<circle cx="126.4" cy="510.3" r="2.3" fill="#1ceb1c"/>
<circle cx="224.5" cy="510.3" r="2.3" fill="#1ceb1c"/>
<polyline points="150.9,511.5 190.1,510.3" fill="none" stroke="#3aee3a" stroke-width="0.8"/>
<circle cx="150.9" cy="511.5" r="2.3" fill="#1ceb1c"/>
<circle cx="190.1" cy="510.3" r="2.3" fill="#1ceb1c"/>
<polyline points="126.4,509.1 150.9,513.7 234.3,515.9" fill="none" stroke="#3aee3a" stroke-width="0.8"/>
<circle cx="126.4" cy="509.1" r="2.3" fill="#1ceb1c"/>
<circle cx="150.9" cy="513.7" r="2.3" fill="#1ceb1c"/>
<circle cx="234.3" cy="515.9" r="2.3" fill="#1ceb1c"/>
<polyline points="150.9,512.5 199.9,512.0 249.0,509.1" fill="none" stroke="#3aee3a" stroke-width="0.8"/>
<circle cx="150.9" cy="512.5" r="2.3" fill="#1ceb1c"/>
<circle cx="199.9" cy="512.0" r="2.3" fill="#1ceb1c"/>
<circle cx="249.0" cy="509.1" r="2.3" fill="#1ceb1c"/>
<polyline points="126.4,511.3 199.9,511.5 224.5,493.3" fill="none" stroke="#3aee3a" stroke-width="0.8"/>
<circle cx="126.4" cy="511.3" r="2.3" fill="#1ceb1c"/>
<circle cx="199.9" cy="511.5" r="2.3" fill="#1ceb1c"/>
<circle cx="224.5" cy="493.3" r="2.3" fill="#1ceb1c"/>
<polyline points="136.2,509.4 239.2,505.8" fill="none" stroke="#3aee3a" stroke-width="0.8"/>
<circle cx="136.2" cy="509.4" r="2.3" fill="#1ceb1c"/>
<circle cx="239.2" cy="505.8" r="2.3" fill="#1ceb1c"/>
<polyline points="175.4,512.1 199.9,500.2" fill="none" stroke="#3aee3a" stroke-width="0.8"/>
<circle cx="175.4" cy="512.1" r="2.3" fill="#1ceb1c"/>
<circle cx="199.9" cy="500.2" r="2.3" fill="#1ceb1c"/>
<polyline points="116.5,510.8 175.4,502.9" fill="none" stroke="#3aee3a" stroke-width="0.8"/>
<circle cx="116.5" cy="510.8" r="2.3" fill="#1ceb1c"/>
<circle cx="175.4" cy="502.9" r="2.3" fill="#1ceb1c"/>
<polyline points="126.4,507.9 209.8,508.1" fill="none" stroke="#3aee3a" stroke-width="0.8"/>
<circle cx="126.4" cy="507.9" r="2.3" fill="#1ceb1c"/>
<circle cx="209.8" cy="508.1" r="2.3" fill="#1ceb1c"/>
<polyline points="150.9,509.4 175.4,514.4" fill="none" stroke="#3aee3a" stroke-width="0.8"/>
<circle cx="150.9" cy="509.4" r="2.3" fill="#1ceb1c"/>
<circle cx="175.4" cy="514.4" r="2.3" fill="#1ceb1c"/>
<polyline points="150.9,513.5 199.9,501.8" fill="none" stroke="#3aee3a" stroke-width="0.8"/>
<circle cx="150.9" cy="513.5" r="2.3" fill="#1ceb1c"/>
<circle cx="199.9" cy="501.8" r="2.3" fill="#1ceb1c"/>
<polyline points="126.4,511.0 199.9,515.6" fill="none" stroke="#3aee3a" stroke-width="0.8"/>
<circle cx="126.4" cy="511.0" r="2.3" fill="#1ceb1c"/>
<circle cx="199.9" cy="515.6" r="2.3" fill="#1ceb1c"/>
<polyline points="150.9,505.7 249.5,543.0" fill="none" stroke="#3aee3a" stroke-width="0.8"/>
<circle cx="150.9" cy="505.7" r="2.3" fill="#1ceb1c"/>
<circle cx="249.5" cy="543.0" r="2.3" fill="#1ceb1c"/>
<polyline points="105.8,511.6 136.2,503.0 199.9,500.3" fill="none" stroke="#3aee3a" stroke-width="0.8"/>
<circle cx="105.8" cy="511.6" r="2.3" fill="#1ceb1c"/>
<circle cx="136.2" cy="503.0" r="2.3" fill="#1ceb1c"/>
<circle cx="199.9" cy="500.3" r="2.3" fill="#1ceb1c"/>
<polyline points="79.0,511.1 102.8,517.1 151.9,517.1 199.9,519.8" fill="none" stroke="#8a8a8a" stroke-width="0.8"/>
<rect x="76.8" y="508.9" width="4.4" height="4.4" fill="#6e6e6e"/>
<rect x="100.6" y="514.9" width="4.4" height="4.4" fill="#6e6e6e"/>
<rect x="149.7" y="514.9" width="4.4" height="4.4" fill="#6e6e6e"/>
<rect x="197.8" y="517.6" width="4.4" height="4.4" fill="#6e6e6e"/>
<polyline points="145.0,511.1 165.1,316.3" fill="none" stroke="#4a84f2" stroke-width="0.8"/>
<path d="M145.0 508.7L147.4 513.5L142.6 513.5Z" fill="#2166ee"/>
<path d="M165.1 313.9L167.5 318.7L162.7 318.7Z" fill="#2166ee"/>
<polyline points="153.3,511.1 200.2,352.0" fill="none" stroke="#4a84f2" stroke-width="0.8"/>
<path d="M153.3 508.7L155.7 513.5L150.9 513.5Z" fill="#2166ee"/>
<path d="M200.2 349.6L202.6 354.4L197.8 354.4Z" fill="#2166ee"/>
<polyline points="163.2,511.1 200.4,396.9 244.6,396.9" fill="none" stroke="#4a84f2" stroke-width="0.8"/>
<path d="M163.2 508.7L165.6 513.5L160.8 513.5Z" fill="#2166ee"/>
<path d="M200.4 394.5L202.8 399.3L198.0 399.3Z" fill="#2166ee"/>
<path d="M244.6 394.5L247.0 399.3L242.2 399.3Z" fill="#2166ee"/>
<polyline points="126.4,511.1 205.3,431.0" fill="none" stroke="#4a84f2" stroke-width="0.8"/>
<path d="M126.4 508.7L128.8 513.5L124.0 513.5Z" fill="#2166ee"/>
<path d="M205.3 428.6L207.7 433.4L202.9 433.4Z" fill="#2166ee"/>
<polyline points="136.2,511.1 205.3,438.6" fill="none" stroke="#4a84f2" stroke-width="0.8"/>
<path d="M136.2 508.7L138.6 513.5L133.8 513.5Z" fill="#2166ee"/>
<path d="M205.3 436.2L207.7 441.0L202.9 441.0Z" fill="#2166ee"/>
<polyline points="180.3,511.1 250.0,432.1" fill="none" stroke="#4a84f2" stroke-width="0.8"/>
<path d="M180.3 508.7L182.7 513.5L177.9 513.5Z" fill="#2166ee"/>
<path d="M250.0 429.7L252.4 434.5L247.6 434.5Z" fill="#2166ee"/>
<polyline points="126.4,511.1 250.5,467.8" fill="none" stroke="#4a84f2" stroke-width="0.8"/>
<path d="M126.4 508.7L128.8 513.5L124.0 513.5Z" fill="#2166ee"/>
<path d="M250.5 465.4L252.9 470.2L248.1 470.2Z" fill="#2166ee"/>
<polyline points="126.4,511.1 250.5,479.7" fill="none" stroke="#4a84f2" stroke-width="0.8"/>
<path d="M126.4 508.7L128.8 513.5L124.0 513.5Z" fill="#2166ee"/>
<path d="M250.5 477.3L252.9 482.1L248.1 482.1Z" fill="#2166ee"/>
<polyline points="126.4,511.1 199.5,471.1" fill="none" stroke="#4a84f2" stroke-width="0.8"/>
<path d="M126.4 508.7L128.8 513.5L124.0 513.5Z" fill="#2166ee"/>
<path d="M199.5 468.7L201.9 473.5L197.1 473.5Z" fill="#2166ee"/>
<polyline points="126.4,511.1 199.5,483.5" fill="none" stroke="#4a84f2" stroke-width="0.8"/>
<path d="M126.4 508.7L128.8 513.5L124.0 513.5Z" fill="#2166ee"/>
<path d="M199.5 481.1L201.9 485.9L197.1 485.9Z" fill="#2166ee"/>
<polyline points="136.2,511.1 206.3,479.7" fill="none" stroke="#4a84f2" stroke-width="0.8"/>
<path d="M136.2 508.7L138.6 513.5L133.8 513.5Z" fill="#2166ee"/>
<path d="M206.3 477.3L208.7 482.1L203.9 482.1Z" fill="#2166ee"/>
<polyline points="126.4,511.1 250.5,499.2" fill="none" stroke="#4a84f2" stroke-width="0.8"/>
<path d="M126.4 508.7L128.8 513.5L124.0 513.5Z" fill="#2166ee"/>
<path d="M250.5 496.8L252.9 501.6L248.1 501.6Z" fill="#2166ee"/>
<polyline points="150.9,511.1 250.5,505.1" fill="none" stroke="#4a84f2" stroke-width="0.8"/>
<path d="M150.9 508.7L153.3 513.5L148.5 513.5Z" fill="#2166ee"/>
<path d="M250.5 502.7L252.9 507.5L248.1 507.5Z" fill="#2166ee"/>
<polyline points="175.4,505.7 275.0,537.6" fill="none" stroke="#4a84f2" stroke-width="0.8"/>
<path d="M175.4 503.3L177.8 508.1L173.0 508.1Z" fill="#2166ee"/>
<path d="M275.0 535.2L277.4 540.0L272.6 540.0Z" fill="#2166ee"/>
<polyline points="150.9,511.1 274.0,510.6" fill="none" stroke="#4a84f2" stroke-width="0.8"/>
<path d="M150.9 508.7L153.3 513.5L148.5 513.5Z" fill="#2166ee"/>
<path d="M274.0 508.2L276.4 513.0L271.6 513.0Z" fill="#2166ee"/>
<polyline points="126.4,511.1 199.9,511.1" fill="none" stroke="#4a84f2" stroke-width="0.8"/>
<path d="M126.4 508.7L128.8 513.5L124.0 513.5Z" fill="#2166ee"/>
<path d="M199.9 508.7L202.3 513.5L197.5 513.5Z" fill="#2166ee"/>
<polyline points="126.4,511.1 224.5,508.4 249.5,511.1" fill="none" stroke="#4a84f2" stroke-width="0.8"/>
<path d="M126.4 508.7L128.8 513.5L124.0 513.5Z" fill="#2166ee"/>
<path d="M224.5 506.0L226.9 510.8L222.1 510.8Z" fill="#2166ee"/>
<path d="M249.5 508.7L251.9 513.5L247.1 513.5Z" fill="#2166ee"/>
<line x1="92.0" y1="505.7" x2="254.9" y2="547.3" stroke="#7a7a7a" stroke-width="4.2"/>
<line x1="114.1" y1="510.6" x2="303.5" y2="506.2" stroke="#178a17" stroke-width="3.6"/>
<line x1="113.6" y1="505.7" x2="286.8" y2="446.2" stroke="#1f5cc0" stroke-width="3.9"/>
</g>
<rect x="75.7" y="8.3" width="246.3" height="243.3" fill="none" stroke="#000" stroke-width="1.6"/>
<line x1="70.2" y1="251.6" x2="75.7" y2="251.6" stroke="#000" stroke-width="1.3"/>
<line x1="75.7" y1="251.6" x2="75.7" y2="257.1" stroke="#000" stroke-width="1.3"/>
<text x="65.4" y="256.6" font-size="15" text-anchor="end">0</text>
<text x="75.7" y="272.4" font-size="15" text-anchor="middle">0</text>
<line x1="70.2" y1="202.9" x2="75.7" y2="202.9" stroke="#000" stroke-width="1.3"/>
<line x1="125.0" y1="251.6" x2="125.0" y2="257.1" stroke="#000" stroke-width="1.3"/>
<text x="65.4" y="207.9" font-size="15" text-anchor="end">10</text>
<text x="125.0" y="272.4" font-size="15" text-anchor="middle">10</text>
<line x1="70.2" y1="154.3" x2="75.7" y2="154.3" stroke="#000" stroke-width="1.3"/>
<line x1="174.2" y1="251.6" x2="174.2" y2="257.1" stroke="#000" stroke-width="1.3"/>
<text x="65.4" y="159.3" font-size="15" text-anchor="end">20</text>
<text x="174.2" y="272.4" font-size="15" text-anchor="middle">20</text>
<line x1="70.2" y1="105.6" x2="75.7" y2="105.6" stroke="#000" stroke-width="1.3"/>
<line x1="223.5" y1="251.6" x2="223.5" y2="257.1" stroke="#000" stroke-width="1.3"/>
<text x="65.4" y="110.6" font-size="15" text-anchor="end">30</text>
<text x="223.5" y="272.4" font-size="15" text-anchor="middle">30</text>
<line x1="70.2" y1="57.0" x2="75.7" y2="57.0" stroke="#000" stroke-width="1.3"/>
<line x1="272.7" y1="251.6" x2="272.7" y2="257.1" stroke="#000" stroke-width="1.3"/>
<text x="65.4" y="62.0" font-size="15" text-anchor="end">40</text>
<text x="272.7" y="272.4" font-size="15" text-anchor="middle">40</text>
<line x1="70.2" y1="8.3" x2="75.7" y2="8.3" stroke="#000" stroke-width="1.3"/>
<line x1="322.0" y1="251.6" x2="322.0" y2="257.1" stroke="#000" stroke-width="1.3"/>
<text x="65.4" y="13.3" font-size="15" text-anchor="end">50</text>
<text x="322.0" y="272.4" font-size="15" text-anchor="middle">50</text>
<text x="126.4" y="294.2" font-size="16">Growth temperature (<tspan dx="1.6">˚</tspan><tspan dx="-1.2">C)</tspan></text>
<text transform="translate(16.2,200.6) rotate(-90)" font-size="16">Optimum temperature</text>
<text transform="translate(35.2,219) rotate(-90)" font-size="16">for photosynthetic rate (<tspan dx="1.6">˚</tspan><tspan dx="-1.2">C)</tspan></text>
<text x="82.6" y="24.9" font-size="16" font-weight="bold">(A)</text>
<line x1="194" y1="188.9" x2="213.5" y2="188.9" stroke="#1ceb1c" stroke-width="2"/>
<line x1="194" y1="211.9" x2="213.5" y2="211.9" stroke="#2166ee" stroke-width="2"/>
<line x1="194" y1="232.8" x2="213.5" y2="232.8" stroke="#8c8c8c" stroke-width="2"/>
<text x="221.2" y="196.4" font-size="14">C<tspan font-size="10" dy="3">3</tspan><tspan dy="-3"> plants</tspan></text>
<text x="221.2" y="218.6" font-size="14">C<tspan font-size="10" dy="3">4</tspan><tspan dy="-3"> plants</tspan></text>
<text x="221.2" y="240.9" font-size="14">CAM plants</text>
<rect x="77.3" y="321.8" width="245.3" height="243.5" fill="none" stroke="#000" stroke-width="1.6"/>
<line x1="71.8" y1="565.2" x2="77.3" y2="565.2" stroke="#000" stroke-width="1.3"/>
<text x="65.4" y="570.2" font-size="15" text-anchor="end">0.0</text>
<line x1="71.8" y1="511.1" x2="77.3" y2="511.1" stroke="#000" stroke-width="1.3"/>
<text x="65.4" y="516.1" font-size="15" text-anchor="end">1.0</text>
<line x1="71.8" y1="457.0" x2="77.3" y2="457.0" stroke="#000" stroke-width="1.3"/>
<text x="65.4" y="462.0" font-size="15" text-anchor="end">2.0</text>
<line x1="71.8" y1="402.9" x2="77.3" y2="402.9" stroke="#000" stroke-width="1.3"/>
<text x="65.4" y="407.9" font-size="15" text-anchor="end">3.0</text>
<line x1="71.8" y1="348.8" x2="77.3" y2="348.8" stroke="#000" stroke-width="1.3"/>
<text x="65.4" y="353.8" font-size="15" text-anchor="end">4.0</text>
<line x1="77.3" y1="565.2" x2="77.3" y2="570.7" stroke="#000" stroke-width="1.3"/>
<text x="77.3" y="587.2" font-size="15" text-anchor="middle">0</text>
<line x1="126.4" y1="565.2" x2="126.4" y2="570.7" stroke="#000" stroke-width="1.3"/>
<text x="126.4" y="587.2" font-size="15" text-anchor="middle">10</text>
<line x1="175.4" y1="565.2" x2="175.4" y2="570.7" stroke="#000" stroke-width="1.3"/>
<text x="175.4" y="587.2" font-size="15" text-anchor="middle">20</text>
<line x1="224.5" y1="565.2" x2="224.5" y2="570.7" stroke="#000" stroke-width="1.3"/>
<text x="224.5" y="587.2" font-size="15" text-anchor="middle">30</text>
<line x1="273.5" y1="565.2" x2="273.5" y2="570.7" stroke="#000" stroke-width="1.3"/>
<text x="273.5" y="587.2" font-size="15" text-anchor="middle">40</text>
<line x1="322.6" y1="565.2" x2="322.6" y2="570.7" stroke="#000" stroke-width="1.3"/>
<text x="322.6" y="587.2" font-size="15" text-anchor="middle">50</text>
<text x="121.0" y="607" font-size="16">Growth temperature (<tspan dx="1.6">˚</tspan><tspan dx="-1.2">C)</tspan></text>
<text transform="translate(13.3,552.5) rotate(-90)" font-size="16">Relative photosynthetic rates</text>
<text transform="translate(33.8,577.5) rotate(-90)" font-size="15.7">at the respective growth temperatures</text>
<text x="82.8" y="339.7" font-size="16" font-weight="bold">(B)</text>
</svg>
</body></html>
